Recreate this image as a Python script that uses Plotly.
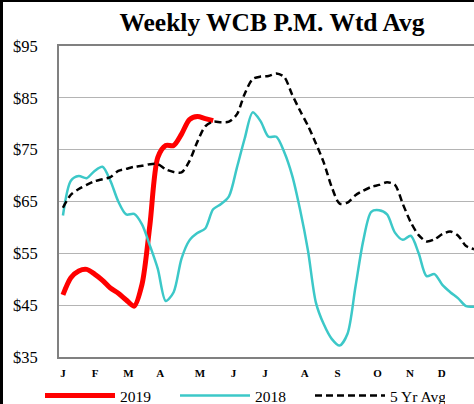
import plotly.graph_objects as go

weeks = list(range(53))

y2019 = [47.0, 50.3, 51.6, 51.9, 51.0, 49.8, 48.3, 47.3, 46.0, 44.8,
         49.0, 60.5, 73.5, 75.8, 75.8, 78.0, 80.8, 81.4, 81.0, 80.6]

y2018 = [62.3, 69.0, 69.9, 69.5, 70.9, 71.7, 69.0, 65.0, 62.5, 62.6,
         60.6, 56.5, 52.0, 45.8, 47.5, 54.0, 57.5, 58.9, 59.8, 63.5,
         64.5, 66.0, 71.5, 77.2, 82.2, 80.5, 77.5, 77.5, 74.5, 70.0,
         63.4, 55.5, 45.5, 41.3, 38.5, 37.2, 39.5, 48.5, 57.5, 63.0,
         63.3, 62.5, 59.0, 57.6, 58.4, 55.0, 50.6, 51.0, 48.9, 47.5,
         46.3, 44.8, 44.7]

y5yr = [63.8, 66.3, 67.4, 68.2, 68.9, 69.3, 69.7, 70.9, 71.3, 71.7,
        71.9, 72.2, 72.2, 71.2, 70.7, 70.6, 72.8, 76.5, 79.5, 80.4,
        80.3, 80.4, 81.8, 85.8, 88.6, 89.1, 89.2, 89.7, 89.0, 85.6,
        82.5, 79.6, 76.2, 72.5, 67.8, 64.6, 64.8, 66.2, 67.1, 67.8,
        68.2, 68.7, 68.2, 64.5, 61.0, 58.5, 57.3, 57.7, 58.7, 59.2,
        58.4, 56.4, 55.8]

month_labels = ["J", "F", "M", "A", "M", "J", "J", "A", "S", "O", "N", "D"]
month_weeks = [0, 4.07, 8.3, 12.3, 17.34, 21.56, 25.57, 30.6, 34.75, 39.8, 43.9, 47.93]

y_ticks = [35, 45, 55, 65, 75, 85, 95]

W, H = 474, 404
L, T, B, R = 59, 46, 47, 0
pw = W - L - R
ph = H - T - B

fig = go.Figure()
fig.add_trace(go.Scatter(x=weeks[:len(y2019)], y=y2019, name="2019", mode="lines",
                         line=dict(color="#FF0000", width=5, shape="spline", smoothing=0.8)))
fig.add_trace(go.Scatter(x=weeks[:len(y2018)], y=y2018, name="2018", mode="lines",
                         line=dict(color="#3CC8C8", width=2.5, shape="spline", smoothing=0.8)))
fig.add_trace(go.Scatter(x=weeks[:len(y5yr)], y=y5yr, name="5 Yr Avg", mode="lines",
                         line=dict(color="#000000", width=2.5, dash="7px,4px", shape="spline", smoothing=0.8)))

font_serif = "Liberation Serif"

fig.update_layout(
    width=W, height=H,
    margin=dict(l=L, r=R, t=T, b=B, autoexpand=False),
    paper_bgcolor="white", plot_bgcolor="white",
    font=dict(family=font_serif, color="black", size=15),
    title=dict(text="<b>Weekly WCB P.M. Wtd Avg</b>", x=272 / W, xref="container", xanchor="center",
               y=1 - 22 / H, yref="container", yanchor="middle",
               font=dict(family=font_serif, size=25.5, color="black")),
    showlegend=True,
    legend=dict(orientation="h", x=40 / W, xref="container", xanchor="left",
                y=1 - 396 / H, yref="container", yanchor="middle",
                itemwidth=70, entrywidth=50, entrywidthmode="pixels",
                font=dict(family=font_serif, size=15.5, color="black"), bgcolor="rgba(0,0,0,0)",
                tracegroupgap=0),
    shapes=[dict(type="rect", xref="paper", yref="paper",
                 x0=-L / pw, x1=(3 - L) / pw, y0=-B / ph, y1=1 + T / ph,
                 fillcolor="black", line=dict(width=0), layer="above"),
            dict(type="rect", xref="paper", yref="paper",
                 x0=-L / pw, x1=1.0, y0=1 + (T - 2) / ph, y1=1 + T / ph,
                 fillcolor="black", line=dict(width=0), layer="above")],
)

fig.update_xaxes(range=[-0.5, 52.0], tickvals=month_weeks, ticktext=["<b>%s</b>" % m for m in month_labels],
                 tickfont=dict(family=font_serif, size=11, color="black"),
                 showgrid=False, zeroline=False, showline=True, linecolor="#808080", linewidth=2,
                 mirror=True, ticks="", ticklabelstandoff=5)
fig.update_yaxes(range=[35, 95], tickvals=y_ticks, ticktext=["$%d" % v for v in y_ticks],
                 tickfont=dict(family=font_serif, size=16.5, color="black"),
                 showgrid=True, gridcolor="#B4B4B4", gridwidth=1, zeroline=False,
                 showline=True, linecolor="#808080", linewidth=2, mirror=False, ticks="",
                 ticklabelstandoff=16)

fig.write_html("out.html", config={"displayModeBar": False},
               post_script="document.body.style.margin='0';document.body.style.overflow='hidden';")
